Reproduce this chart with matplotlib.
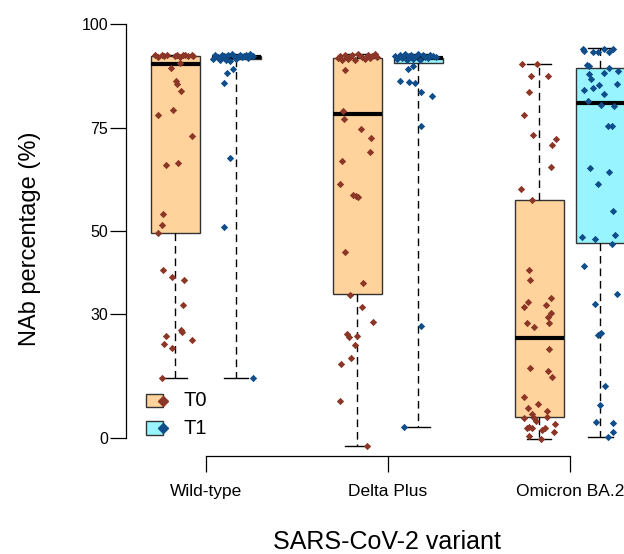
import matplotlib
matplotlib.use("Agg")
import matplotlib.pyplot as plt
from matplotlib.lines import Line2D
from matplotlib.patches import Rectangle

plt.rcParams["font.family"] = ["Liberation Sans", "DejaVu Sans"]

variants = ["Wild-type", "Delta Plus", "Omicron BA.2"]
times = ["T0", "T1"]
y_ticks = [0, 30, 50, 75, 100]

# box stats: q1, median, q3, lower whisker, upper whisker
box_t0 = [
    [49.6, 90.3, 92.3, 14.5, 92.6],
    [34.8, 78.3, 91.7, -1.9, 92.8],
    [5.1, 24.1, 57.4, -0.2, 90.3],
]
box_t1 = [
    [91.6, 92.0, 92.3, 14.5, 92.8],
    [90.7, 91.8, 91.9, 2.7, 92.8],
    [47.2, 81.0, 89.3, 0.4, 94.1],
]

# individual samples (value) and their horizontal jitter (group units)
wt_t0 = [92.4, 92.1, 92.5, 92.2, 92.6, 92.3, 92.5, 92.0, 92.4, 92.6, 92.2, 92.5, 92.3,
         90.7, 89.5, 86.3, 85.4, 83.9, 78.1, 79.2, 73.0, 66.0, 66.4, 54.1, 51.5, 49.5,
         40.6, 39.0, 38.1, 32.2, 26.1, 25.6, 24.7, 23.7, 22.8, 21.7, 14.5]
wt_t0_jit = [-0.111, -0.093, -0.074, -0.062, -0.047, -0.001, 0.012, 0.026, 0.041, 0.054,
             0.072, 0.091, 0.099, 0.026, -0.025, 0.004, 0.008, 0.032, -0.093, -0.010,
             0.091, -0.051, 0.017, -0.069, -0.074, -0.096, -0.069, -0.016, 0.047, 0.045,
             0.030, 0.036, -0.052, 0.091, -0.062, -0.016, -0.074]

wt_t1 = [91.5, 92.4, 92.0, 91.2, 92.6, 92.2, 91.4, 92.5, 91.0, 92.7, 92.3, 91.6, 92.1,
         92.4, 92.0, 92.3, 92.6, 91.9, 92.8, 92.2, 89.1, 88.1, 85.7, 67.7, 51.1, 14.5]
wt_t1_jit = [-0.127, -0.116, -0.100, -0.089, -0.078, -0.067, -0.056, -0.045, -0.034,
             -0.023, -0.012, -0.001, 0.010, 0.021, 0.032, 0.043, 0.054, 0.065, 0.076,
             0.092, -0.016, -0.049, -0.067, -0.034, -0.067, 0.094]

dp_t0 = [91.8, 92.3, 91.2, 92.6, 91.5, 92.0, 92.4, 91.3, 92.7, 92.1, 91.6, 92.5, 91.9,
         92.3, 92.8, 92.0, 88.9, 79.1, 77.1, 74.7, 72.6, 69.2, 66.9, 61.5, 58.7, 58.5,
         58.3, 45.0, 37.6, 34.6, 31.6, 28.1, 25.1, 24.4, 24.7, 22.5, 19.3, 17.9, 9.0, -1.9]
dp_t0_jit = [-0.105, -0.095, -0.084, -0.067, -0.051, -0.040, -0.029, -0.012, 0.004, 0.026,
             0.043, 0.059, 0.070, 0.081, 0.098, 0.109, -0.067, -0.076, -0.073, 0.021,
             0.074, 0.070, -0.085, -0.095, -0.021, -0.007, 0.006, -0.067, 0.034, -0.040,
             0.025, 0.088, -0.058, -0.043, 0.001, -0.012, -0.034, -0.091, -0.095, 0.055]

dp_t1 = [92.3, 91.6, 92.5, 91.9, 92.7, 91.2, 92.2, 92.6, 91.5, 92.0, 92.8, 91.3, 92.4,
         92.1, 91.8, 92.6, 92.3, 92.0, 89.1, 89.8, 86.3, 86.1, 85.7, 83.7, 82.7, 75.4,
         27.1, 2.7]
dp_t1_jit = [-0.127, -0.116, -0.100, -0.089, -0.073, -0.062, -0.051, -0.040, -0.029,
             -0.018, -0.001, 0.010, 0.026, 0.037, 0.054, 0.065, 0.081, 0.098, -0.054,
             -0.027, -0.100, -0.049, -0.018, 0.014, 0.077, 0.015, 0.017, -0.078]

om_t0 = [90.3, 90.3, 87.5, 87.4, 83.5, 78.1, 73.3, 72.2, 70.7, 65.5, 60.2, 57.4, 40.6,
         38.2, 33.9, 32.9, 31.8, 32.1, 30.2, 29.2, 27.9, 27.9, 26.9, 21.5, 17.0, 16.3,
         14.7, 9.9, 7.4, 8.2, 6.6, 5.9, 5.0, 4.8, 4.2, 5.1, 3.4, 2.6, 2.0, 1.5, 2.8, 2.6,
         2.4, 0.6, -0.2]
om_t0_jit = [-0.093, -0.014, -0.045, 0.047, -0.054, -0.082, -0.032, 0.091, 0.069, 0.065,
             -0.100, -0.038, -0.054, -0.049, 0.065, -0.060, -0.084, 0.036, 0.063, 0.050,
             0.054, -0.069, -0.030, 0.055, -0.051, 0.050, 0.069, -0.082, -0.063, -0.005,
             0.043, -0.041, -0.027, -0.082, -0.019, 0.041, 0.087, 0.032, 0.017, 0.083,
             -0.056, -0.069, -0.041, -0.056, 0.010]

om_t1 = [93.9, 93.5, 93.2, 93.2, 94.0, 93.2, 94.0, 90.1, 89.9, 89.3, 88.7, 87.9, 88.2,
         86.7, 85.3, 84.5, 84.1, 85.5, 83.1, 81.5, 80.4, 80.2, 75.5, 75.5, 65.3, 64.3,
         61.5, 54.9, 48.5, 48.1, 49.0, 46.9, 41.7, 34.8, 32.3, 24.9, 25.3, 12.7, 8.0,
         3.9, 3.6, 1.6, 0.4]
om_t1_jit = [-0.093, -0.087, -0.041, -0.014, 0.021, 0.050, 0.072, -0.074, -0.060, 0.048,
             0.099, -0.060, 0.021, -0.052, -0.007, -0.041, -0.089, 0.091, 0.023, -0.069,
             0.003, 0.077, 0.041, 0.066, -0.056, 0.048, -0.012, 0.069, -0.098, -0.029,
             0.081, 0.066, -0.089, 0.094, -0.029, -0.014, 0.004, 0.026, -0.001, -0.023,
             0.069, 0.072, 0.045]

points_t0 = [(wt_t0, wt_t0_jit), (dp_t0, dp_t0_jit), (om_t0, om_t0_jit)]
points_t1 = [(wt_t1, wt_t1_jit), (dp_t1, dp_t1_jit), (om_t1, om_t1_jit)]

FILL = {"T0": "#FFD39B", "T1": "#98F5FF"}
DOT = {"T0": "#8B3626", "T1": "#104E8B"}
OFFSET = 0.1676
BOX_W = 0.269

W, H = 624, 554
fig = plt.figure(figsize=(W / 100, H / 100), dpi=100)
ax = fig.add_axes([126 / W, (H - 456) / H, (W - 126) / W, (456 - 24) / H])

for t, boxes, pts, sign in [("T0", box_t0, points_t0, -1), ("T1", box_t1, points_t1, 1)]:
    stats = [dict(q1=b[0], med=b[1], q3=b[2], whislo=b[3], whishi=b[4], fliers=[])
             for b in boxes]
    pos = [i + sign * OFFSET for i in range(len(variants))]
    ax.bxp(stats, positions=pos, widths=BOX_W, patch_artist=True, showfliers=False,
           manage_ticks=False,
           boxprops=dict(facecolor=FILL[t], edgecolor="#333333", linewidth=1.0),
           medianprops=dict(color="black", linewidth=3.0, solid_capstyle="butt"),
           whiskerprops=dict(color="black", linewidth=1.0, linestyle=(0, (5.5, 3.5))),
           capprops=dict(color="black", linewidth=1.0))
    for p, (vals, jit) in zip(pos, pts):
        ax.scatter([p + j for j in jit], vals, marker="D", s=14, color=DOT[t],
                   linewidths=0, zorder=4)

ax.set_xlim(-0.438, 2.298)
ax.set_ylim(-4.27, 100)
for s in ["top", "right"]:
    ax.spines[s].set_visible(False)
ax.spines["left"].set_bounds(0, 100)
ax.spines["bottom"].set_bounds(0, len(variants) - 1)
for s in ["left", "bottom"]:
    ax.spines[s].set_linewidth(0.9)
ax.set_yticks(y_ticks)
ax.set_yticklabels([str(v) for v in y_ticks])
ax.set_xticks(range(len(variants)))
ax.set_xticklabels(variants)
ax.tick_params(axis="y", labelsize=11.5, length=11.5, width=0.9, pad=1.5)
ax.tick_params(axis="x", labelsize=12.5, length=11.5, width=0.9, pad=8.5)

fig.text(30 / W, 1 - 239 / H, "NAb percentage (%)", rotation=90, ha="center",
         va="center", fontsize=17)
fig.text(387 / W, 1 - 549 / H, "SARS-CoV-2 variant", ha="center", va="baseline",
         fontsize=18)

# legend drawn by hand: filled box with a diamond on its right edge
for k, t in enumerate(times):
    py = 400.5 + 27.5 * k
    fig.add_artist(Rectangle((146 / W, 1 - (py + 6.7) / H), 17 / W, 13.4 / H,
                             transform=fig.transFigure, facecolor=FILL[t],
                             edgecolor="#333333", linewidth=1.0))
    fig.add_artist(Line2D([162.5 / W], [1 - py / H], marker="D", markersize=5,
                          color=DOT[t], linewidth=0, transform=fig.transFigure))
    fig.text(184 / W, 1 - py / H, t, ha="left", va="center", fontsize=14.5)

fig.savefig("out.png", dpi=100)
